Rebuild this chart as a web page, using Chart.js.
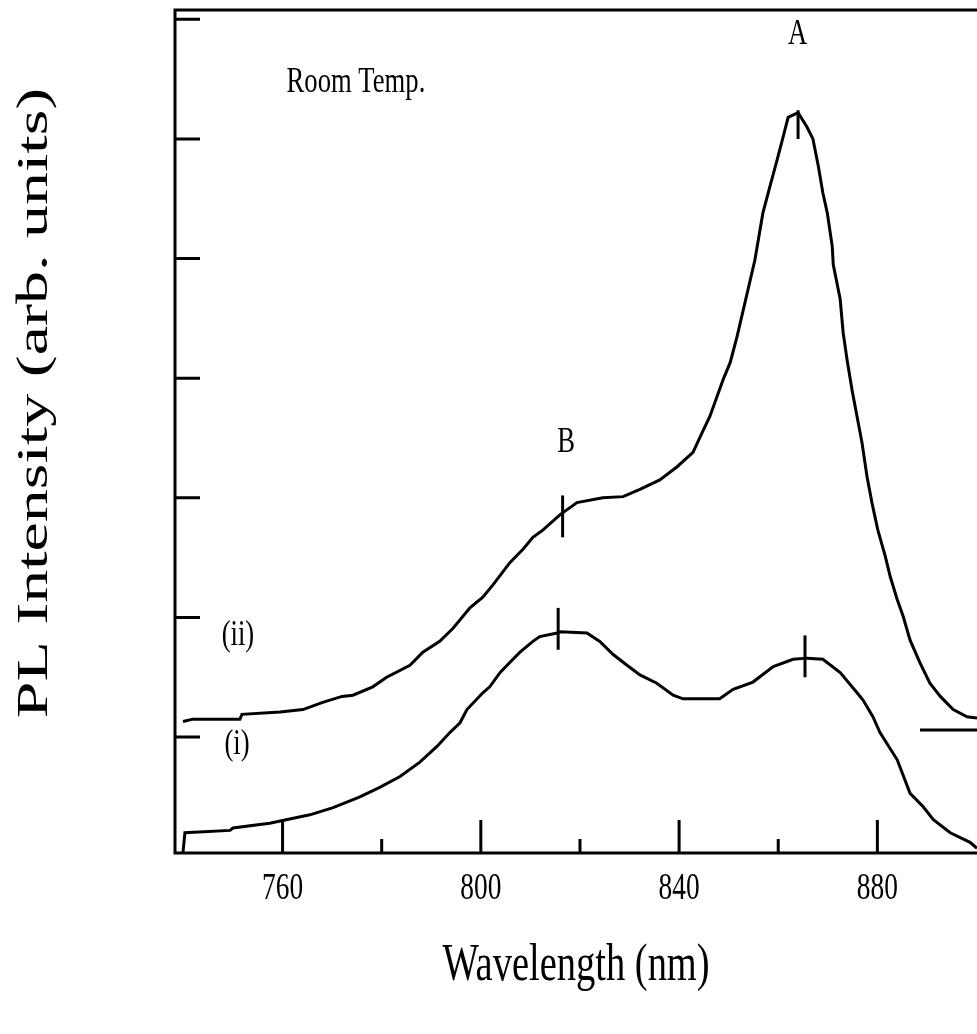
<!DOCTYPE html>
<html>
<head>
<meta charset="utf-8">
<script src="https://cdn.jsdelivr.net/npm/chart.js@4.4.1/dist/chart.umd.min.js"></script>
<style>
  html, body { margin: 0; padding: 0; background: #fff; }
  canvas { display: block; }
</style>
</head>
<body>
<canvas id="pl" width="977" height="1034"></canvas>
<script>
// PL spectra, room temperature
const curveIIx = [739.9, 741.9, 751.4, 751.8, 759.5, 764.1, 768.1, 772.0, 774.2, 778.2, 781.0, 785.7, 788.3, 791.7, 794.4, 797.8, 800.4, 802.4, 805.9, 808.5, 810.5, 812.5, 816.0, 819.4, 824.6, 828.7, 832.1, 836.1, 839.6, 842.8, 844.6, 846.2, 847.6, 848.9, 850.3, 851.7, 853.5, 855.3, 856.9, 858.3, 859.8, 861.0, 862.0, 864.0, 865.8, 867.0, 868.1, 869.0, 869.9, 870.9, 871.1, 872.5, 873.1, 873.9, 874.9, 875.9, 876.9, 877.9, 878.9, 880.1, 881.6, 882.6, 884.0, 885.2, 886.6, 888.6, 890.6, 892.7, 895.3, 898.1, 900.1];
const curveIIy = [0.13, 0.15, 0.15, 0.19, 0.21, 0.23, 0.29, 0.34, 0.35, 0.42, 0.50, 0.60, 0.71, 0.80, 0.91, 1.08, 1.17, 1.27, 1.46, 1.57, 1.67, 1.73, 1.86, 1.96, 2.00, 2.01, 2.07, 2.15, 2.26, 2.38, 2.54, 2.68, 2.84, 2.99, 3.13, 3.35, 3.67, 3.99, 4.38, 4.60, 4.83, 5.02, 5.18, 5.22, 5.10, 5.00, 4.77, 4.55, 4.38, 4.10, 3.95, 3.66, 3.38, 3.15, 2.90, 2.68, 2.46, 2.18, 1.96, 1.73, 1.51, 1.34, 1.15, 1.01, 0.81, 0.62, 0.45, 0.34, 0.23, 0.17, 0.16];

const curveIx = [739.9, 740.3, 749.4, 750.0, 757.4, 765.5, 770.2, 775.6, 779.6, 783.7, 787.7, 791.1, 793.8, 795.8, 797.2, 800.4, 801.8, 803.9, 805.3, 807.9, 810.5, 811.9, 815.4, 816.0, 821.4, 824.0, 826.7, 829.5, 832.1, 835.5, 838.8, 840.8, 848.2, 850.9, 854.9, 859.0, 863.0, 865.8, 869.0, 872.5, 875.9, 877.1, 879.1, 880.5, 884.0, 886.6, 889.2, 891.3, 894.7, 898.7, 900.1];
const curveIy = [-0.97, -0.80, -0.78, -0.76, -0.72, -0.65, -0.59, -0.50, -0.42, -0.33, -0.21, -0.08, 0.04, 0.12, 0.23, 0.37, 0.42, 0.54, 0.60, 0.71, 0.80, 0.84, 0.87, 0.88, 0.87, 0.80, 0.69, 0.60, 0.52, 0.45, 0.35, 0.32, 0.32, 0.40, 0.46, 0.59, 0.65, 0.66, 0.65, 0.54, 0.37, 0.31, 0.17, 0.04, -0.19, -0.47, -0.58, -0.69, -0.80, -0.88, -0.93];

// short vertical markers at peak positions
const markerX    = [816.5, 815.6, 865.4, 864.0];
const markerLow  = [1.67, 0.73, 0.50, 5.00];
const markerHigh = [2.02, 1.08, 0.85, 5.24];

// stray tick at the right edge
const rightTickX = [888.6, 900.1];
const rightTickY = [0.06, 0.06];

const majorTicks = [760, 800, 840, 880];
const minorTicks = [780, 820, 860];
const yTicks = [0, 1, 2, 3, 4, 5, 6];

const labels = [
    { text: 'Room Temp.', x: 774.8, y: 5.47, size: 36 },
    { text: 'A', x: 863.9, y: 5.87, size: 36 },
    { text: 'B', x: 817.2, y: 2.46, size: 36 },
    { text: '(ii)', x: 751.0, y: 0.85, size: 36 },
    { text: '(i)', x: 750.8, y: -0.06, size: 36 },
];
const xTitle = 'Wavelength (nm)';
const yTitle = 'PL Intensity (arb. units)';

const FONT = '"Liberation Serif", "Times New Roman", serif';
const SQUEEZE = 0.74; // scan is squashed horizontally

function squeezed(ctx, text, x, y, size) {
    ctx.save();
    ctx.translate(x, y);
    ctx.scale(SQUEEZE, 1);
    ctx.font = `${size}px ${FONT}`;
    ctx.textAlign = 'center';
    ctx.textBaseline = 'middle';
    ctx.fillText(text, 0, 0);
    ctx.restore();
}

const framePlugin = {
    id: 'frame',
    afterDatasetsDraw(chart) {
        const { ctx, chartArea: { left, right, top, bottom }, scales: { x, y } } = chart;
        ctx.save();
        ctx.strokeStyle = '#000';
        ctx.fillStyle = '#000';
        ctx.lineWidth = 3;
        ctx.beginPath();
        ctx.moveTo(left - 1.5, top);
        ctx.lineTo(right + 2, top);
        ctx.moveTo(left, top);
        ctx.lineTo(left, bottom + 1.5);
        ctx.moveTo(left - 1.5, bottom);
        ctx.lineTo(right + 2, bottom);
        yTicks.forEach(v => {
            const py = y.getPixelForValue(v);
            ctx.moveTo(left, py);
            ctx.lineTo(left + 25, py);
        });
        majorTicks.forEach(v => {
            const px = x.getPixelForValue(v);
            ctx.moveTo(px, bottom);
            ctx.lineTo(px, bottom - 33);
        });
        minorTicks.forEach(v => {
            const px = x.getPixelForValue(v);
            ctx.moveTo(px, bottom);
            ctx.lineTo(px, bottom - 14);
        });
        ctx.stroke();

        majorTicks.forEach(v => squeezed(ctx, String(v), x.getPixelForValue(v), bottom + 36, 37));
        labels.forEach(l => squeezed(ctx, l.text, x.getPixelForValue(l.x), y.getPixelForValue(l.y), l.size));
        squeezed(ctx, xTitle, (left + right) / 2, 966, 52);

        // rotated title: glyph height is what gets squashed here
        ctx.save();
        ctx.translate(35, 403);
        ctx.rotate(-Math.PI / 2);
        ctx.scale(1, 0.68);
        ctx.font = `66px ${FONT}`;
        ctx.textAlign = 'center';
        ctx.textBaseline = 'middle';
        ctx.fillText(yTitle, 0, 0);
        ctx.restore();
        ctx.restore();
    },
};

const toPoints = (xs, ys) => xs.map((v, i) => ({ x: v, y: ys[i] }));
const lineStyle = { borderColor: '#000', borderWidth: 3, pointRadius: 0, tension: 0, fill: false };

const datasets = [
    { label: '(ii)', data: toPoints(curveIIx, curveIIy), ...lineStyle },
    { label: '(i)', data: toPoints(curveIx, curveIy), ...lineStyle },
    ...markerX.map((m, i) => ({
        label: 'marker',
        data: [{ x: m, y: markerLow[i] }, { x: m, y: markerHigh[i] }],
        ...lineStyle,
    })),
    { label: 'tick', data: toPoints(rightTickX, rightTickY), ...lineStyle },
];

new Chart(document.getElementById('pl'), {
    type: 'line',
    data: { datasets },
    plugins: [framePlugin],
    options: {
        responsive: false,
        animation: false,
        devicePixelRatio: 1,
        layout: { padding: { left: 175, top: 10, right: 0, bottom: 181 } },
        plugins: { legend: { display: false }, tooltip: { enabled: false } },
        scales: {
            x: { type: 'linear', display: false, min: 738.3, max: 900.1 },
            y: { type: 'linear', display: false, min: -0.969, max: 6.078 },
        },
    },
});
</script>
</body>
</html>
